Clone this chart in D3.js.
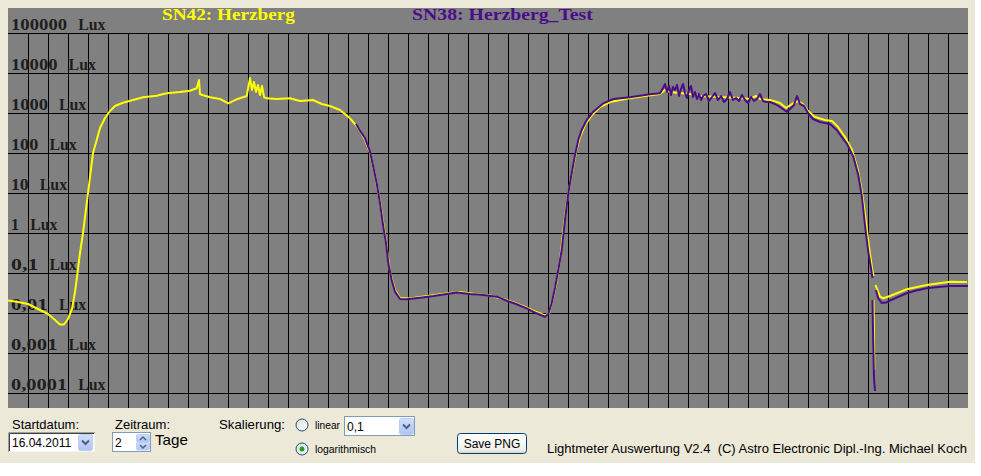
<!DOCTYPE html>
<html>
<head>
<meta charset="utf-8">
<script src="https://cdn.jsdelivr.net/npm/d3@7"></script>
<style>
html,body{margin:0;padding:0;background:#fff;}
svg{display:block;}
</style>
</head>
<body>
<script>
// ---- data ----
const seriesNames = ["SN42: Herzberg", "SN38: Herzberg_Test"];
const tickValues = [1e5, 1e4, 1e3, 100, 10, 1, 0.1, 0.01, 0.001, 0.0001];
const tickNumbers = ["100000", "10000", "1000", "100", "10", "1", "0,1", "0,01", "0,001", "0,0001"];
const tickUnit = "Lux";
const hourTicks = d3.range(1, 48);
const startDate = "16.04.2011";
const periodDays = "2";

// SN42 (yellow): hours since start, lux (null = gap)
const hoursSN42 = [0,0.5,1.0,1.5,2.0,2.35,2.6,2.8,3.0,3.2,3.35,3.475,3.6,3.75,3.875,4.0,4.125,4.25,4.435,4.6,4.85,5.1,5.35,5.75,6.25,6.75,7.435,7.935,8.6,9.1,9.435,9.55,9.6,10.1,10.6,11.015,11.435,11.935,12.1,12.2,12.3,12.4,12.5,12.6,12.7,12.8,12.935,13.435,14.1,14.6,15.25,15.685,16.1,16.6,17.1,17.6,
17.85,18.1,18.35,18.6,18.85,19.1,19.35,19.6,20.1,20.6,21.35,22.1,22.6,23.35,24.1,24.85,25.35,25.85,26.35,26.85,27.05,27.2,27.4,27.6,27.8,28.0,28.2,28.4,28.6,28.85,29.2,29.6,30.1,30.85,31.85,32.6,32.85,33.1,33.6,34.1,34.6,35.6,36.6,37.1,37.4,37.6,38.1,38.6,38.9,39.2,39.5,39.75,40.0,40.35,40.85,41.2,41.5,41.85,42.2,42.5,42.7,42.9,43.05,43.2,43.275,43.275,43.275,43.3,43.315,43.315,43.375,43.6,43.765,44.1,44.935,45.935,47.1,47.95];
const luxSN42 = [0.0205,0.0188,0.0168,0.0126,0.00944,0.00668,0.00516,0.00516,0.00708,0.0126,0.0335,0.1,0.316,1,3.16,10,31.6,100,211,422,750,1122,1496,1809,2113,2469,2707,3108,3350,3610,4145,6683,2934,2469,2239,1748,2200,2661,7499,3758,5957,3350,5012,2818,4732,2512,2331,2239,2331,1995,2113,1679,1496,1189,737,376,
211,100,28.2,5.96,0.891,0.106,0.0376,0.0237,0.0230,0.0251,0.0282,0.0316,0.0335,0.0299,0.0274,0.0217,0.0178,0.0141,0.0109,0.00866,0.01,0.0188,0.0501,0.211,1.585,8.91,31.6,106,251,501,891,1413,1884,2239,2661,2985,3758,3350,3162,2985,2661,2512,2371,2239,2661,2239,2113,1778,1334,1679,1995,1679,1122,794,668,631,447,251,119,37.6,10.6,1.884,0.447,0.1334,0.0841,null,0.0211,0.00282,0.000376,null,0.0501,0.0256,0.0234,0.0266,0.0392,0.0501,0.0606,0.0596];

// SN38 (purple)
const hoursSN38 = [17.4,17.85,18.1,18.265,18.435,18.6,18.765,18.9,19.015,19.185,19.35,19.6,19.935,20.6,21.265,21.935,22.435,23.1,23.765,24.435,24.935,25.435,25.935,26.435,26.85,27.015,27.185,27.35,27.515,27.685,27.85,28.015,28.185,28.35,28.515,28.685,28.935,29.265,29.765,30.265,31.1,32.1,32.6,
32.75,32.85,32.95,33.05,33.15,33.25,33.35,33.45,33.55,33.65,33.75,33.85,33.95,34.05,34.15,34.25,34.35,34.45,34.55,34.65,34.75,34.9,35.05,35.2,35.35,35.5,35.65,35.8,35.95,36.1,36.25,36.4,36.55,36.7,36.85,37.0,37.15,37.3,37.45,37.6,37.75,37.9,38.1,38.35,38.6,38.935,39.1,39.3,39.45,39.6,39.8,40.0,40.25,40.6,41.1,41.435,41.65,41.935,42.265,42.515,42.685,42.85,43.0,43.15,43.225,43.225,43.225,43.25,43.275,43.3,43.35,43.35,43.4,43.5,43.685,43.9,44.1,44.5,44.935,45.4,45.935,46.5,47.1,48.0];
const luxSN38 = [531,233,108,45.4,17.5,5.53,1.44,0.553,0.175,0.0668,0.0341,0.0224,0.022,0.0241,0.0266,0.0299,0.0325,0.0299,0.0282,0.0256,0.0203,0.0165,0.0131,0.00983,0.00808,0.00944,0.0178,0.0422,0.119,0.376,2.11,9.83,31.1,89.1,211,376,668,1078,1748,2239,2469,2934,3108,
4217,5309,3350,4732,2818,4467,3758,5012,2661,3981,5309,3162,2371,3758,4732,2512,3350,2239,2985,2113,2661,2985,1995,2512,3162,2113,2661,1884,2239,3350,2113,2371,1995,2818,2113,1778,2512,1995,2239,2985,1995,1884,1884,1679,1413,1078,1259,1585,2661,1679,1496,1000,708,596,531,376,266,175,81.2,28.2,8.91,1.585,0.376,0.133,0.075,null,0.0211,0.00376,0.000891,0.000237,0.000112,null,0.0376,0.0237,0.0178,0.0183,0.0205,0.0251,0.0311,0.0365,0.0415,0.0447,0.0473,0.0473];

// ---- drawing ----
const W = 981, H = 476;
const svg = d3.select("body").append("svg").attr("width", W).attr("height", H);
svg.append("rect").attr("width", W).attr("height", H).attr("fill", "#ffffff");
svg.append("rect").attr("width", 975).attr("height", 463).attr("fill", "#ECE9D8");

const plot = {left: 8, right: 968, top: 8, bottom: 408};
const x = d3.scaleLinear().domain([0, 48]).range([plot.left, plot.right]);
const y = d3.scaleLog().domain([1e-4, 1e5]).range([393, 33]);

svg.append("rect").attr("x", plot.left).attr("y", plot.top)
  .attr("width", plot.right - plot.left).attr("height", plot.bottom - plot.top)
  .attr("fill", "#808080");

const grid = svg.append("g").attr("shape-rendering", "crispEdges").attr("stroke", "#000").attr("stroke-width", 1);
grid.selectAll("line.h").data(tickValues).join("line").attr("class", "h")
  .attr("x1", plot.left).attr("x2", plot.right)
  .attr("y1", d => Math.round(y(d)) + 0.5).attr("y2", d => Math.round(y(d)) + 0.5);
grid.selectAll("line.v").data(hourTicks).join("line").attr("class", "v")
  .attr("x1", d => Math.round(x(d)) + 0.5).attr("x2", d => Math.round(x(d)) + 0.5)
  .attr("y1", y(1e5)).attr("y2", plot.bottom);

// monospace-like serif labels: each glyph cell 9.6 px wide
const CH = 9.6;
const serifFont = "'Liberation Serif', 'DejaVu Serif', serif";
const labels = svg.append("g").selectAll("text").data(tickValues).join("text")
  .attr("y", d => y(d) - 3)
  .attr("font-family", serifFont)
  .attr("font-weight", "bold").attr("font-size", 16).attr("fill", "#1e1e1e");
labels.append("tspan").attr("x", 11)
  .attr("textLength", (d, i) => tickNumbers[i].length * CH - 1.5).attr("lengthAdjust", "spacingAndGlyphs")
  .text((d, i) => tickNumbers[i]);
labels.append("tspan").attr("x", (d, i) => 11 + (tickNumbers[i].length + 1) * CH)
  .attr("textLength", 3 * CH - 1.5).attr("lengthAdjust", "spacingAndGlyphs")
  .text(tickUnit);

const titleColors = ["#FFFF00", "#4B0C8C"];
const titleX = [162, 412];
svg.append("g").selectAll("text").data(seriesNames).join("text")
  .attr("x", (d, i) => titleX[i]).attr("y", 20)
  .attr("font-family", serifFont)
  .attr("font-weight", "bold").attr("font-size", 16)
  .attr("textLength", d => d.length * CH - 1.5).attr("lengthAdjust", "spacingAndGlyphs")
  .attr("fill", (d, i) => titleColors[i]).text(d => d);

const line = d3.line().defined(d => d[1] !== null)
  .x(d => x(d[0])).y(d => y(d[1]));
svg.append("clipPath").attr("id", "pc").append("rect")
  .attr("x", plot.left).attr("y", plot.top).attr("width", plot.right - plot.left).attr("height", plot.bottom - plot.top);

const series = [
  {pts: hoursSN42.map((h, i) => [h, luxSN42[i]]), color: "#FFFF00"},
  {pts: hoursSN38.map((h, i) => [h, luxSN38[i]]), color: "#4B0C8C"}
];
svg.append("g").attr("clip-path", "url(#pc)").selectAll("path").data(series).join("path")
  .attr("d", d => line(d.pts)).attr("fill", "none")
  .attr("stroke", d => d.color).attr("stroke-width", 2)
  .attr("stroke-linejoin", "round");

// ---- control panel ----
const ui = svg.append("g").attr("font-family", "Arial, 'Liberation Sans', sans-serif").attr("fill", "#000");
const txt = (s, tx, ty, fs, tl) => {
  const t = ui.append("text").attr("x", tx).attr("y", ty).attr("font-size", fs).text(s);
  if (tl) t.attr("textLength", tl).attr("lengthAdjust", "spacingAndGlyphs");
  return t;
};
txt("Startdatum:", 12, 429, 13, 67);
txt("Zeitraum:", 115, 429, 13, 55);
txt("Tage", 155, 445, 14.5, 33);
txt("Skalierung:", 219, 429, 13, 66);
txt("linear", 315, 429, 11, 25);
txt("logarithmisch", 315, 453, 11, 61);
txt("Lightmeter Auswertung V2.4  (C) Astro Electronic Dipl.-Ing. Michael Koch", 547, 453, 13, 420).style("white-space", "pre");

const defs = svg.append("defs");
const g1 = defs.append("linearGradient").attr("id", "btnBlue").attr("x1", 0).attr("y1", 0).attr("x2", 0).attr("y2", 1);
g1.append("stop").attr("offset", 0).attr("stop-color", "#D2DEFC");
g1.append("stop").attr("offset", 1).attr("stop-color", "#AFC3F3");
const g2 = defs.append("linearGradient").attr("id", "btnGray").attr("x1", 0).attr("y1", 0).attr("x2", 0).attr("y2", 1);
g2.append("stop").attr("offset", 0).attr("stop-color", "#FFFFFF");
g2.append("stop").attr("offset", 0.8).attr("stop-color", "#F0F0EA");
g2.append("stop").attr("offset", 1).attr("stop-color", "#D6D0C5");

function dropButton(bx, by, bw, bh) {
  ui.append("rect").attr("x", bx + 0.5).attr("y", by + 0.5).attr("width", bw).attr("height", bh)
    .attr("rx", 2).attr("fill", "url(#btnBlue)").attr("stroke", "#BCCDF5");
  const cx = bx + bw / 2 + 0.5, cy = by + bh / 2 + 0.5;
  ui.append("path").attr("d", `M${cx - 3.5},${cy - 2} L${cx},${cy + 1.5} L${cx + 3.5},${cy - 2}`)
    .attr("fill", "none").attr("stroke", "#4D6185").attr("stroke-width", 2);
}

// date combo (sunken)
ui.append("rect").attr("x", 8).attr("y", 432).attr("width", 87).attr("height", 20).attr("fill", "#fff");
ui.append("path").attr("d", "M8.5,452 V432.5 H95").attr("stroke", "#A0A0A0").attr("fill", "none");
ui.append("path").attr("d", "M9.5,451 V433.5 H94").attr("stroke", "#404040").attr("fill", "none");
ui.append("path").attr("d", "M9,451.5 H94.5 V433").attr("stroke", "#F4F4F0").attr("fill", "none");
txt(startDate, 12, 447, 12);
dropButton(78, 434, 14, 16);

// spin box
ui.append("rect").attr("x", 112.5).attr("y", 432.5).attr("width", 38).attr("height", 19)
  .attr("fill", "#fff").attr("stroke", "#7F9DB9");
txt(periodDays, 115, 447, 12);
ui.append("rect").attr("x", 136.5).attr("y", 434.5).attr("width", 13).attr("height", 7.5).attr("rx", 1.5).attr("fill", "url(#btnBlue)").attr("stroke", "#BCCDF5");
ui.append("rect").attr("x", 136.5).attr("y", 442.5).attr("width", 13).attr("height", 7.5).attr("rx", 1.5).attr("fill", "url(#btnBlue)").attr("stroke", "#BCCDF5");
ui.append("path").attr("d", "M140,440 L143,437 L146,440").attr("fill", "none").attr("stroke", "#4D6185").attr("stroke-width", 1.5);
ui.append("path").attr("d", "M140,445 L143,448 L146,445").attr("fill", "none").attr("stroke", "#4D6185").attr("stroke-width", 1.5);

// radios
const rg = defs.append("linearGradient").attr("id", "radioG").attr("x1", 0).attr("y1", 0).attr("x2", 1).attr("y2", 1);
rg.append("stop").attr("offset", 0).attr("stop-color", "#DCDCD6");
rg.append("stop").attr("offset", 1).attr("stop-color", "#FFFFFF");
[[302, 425, false], [302, 449, true]].forEach(([cx, cy, sel]) => {
  ui.append("circle").attr("cx", cx).attr("cy", cy).attr("r", 6).attr("fill", "url(#radioG)").attr("stroke", "#1C5180");
  if (sel) ui.append("circle").attr("cx", cx).attr("cy", cy).attr("r", 2.5).attr("fill", "#21A121");
});

// scale combo
ui.append("rect").attr("x", 344.5).attr("y", 416.5).attr("width", 70).attr("height", 19)
  .attr("fill", "#fff").attr("stroke", "#7F9DB9");
txt("0,1", 347, 431, 12);
dropButton(399, 418, 14, 16);

// Save PNG button
ui.append("rect").attr("x", 457.5).attr("y", 433.5).attr("width", 69).attr("height", 20).attr("rx", 3)
  .attr("fill", "url(#btnGray)").attr("stroke", "#003C74");
txt("Save PNG", 492, 448, 12).attr("text-anchor", "middle");
</script>
</body>
</html>
